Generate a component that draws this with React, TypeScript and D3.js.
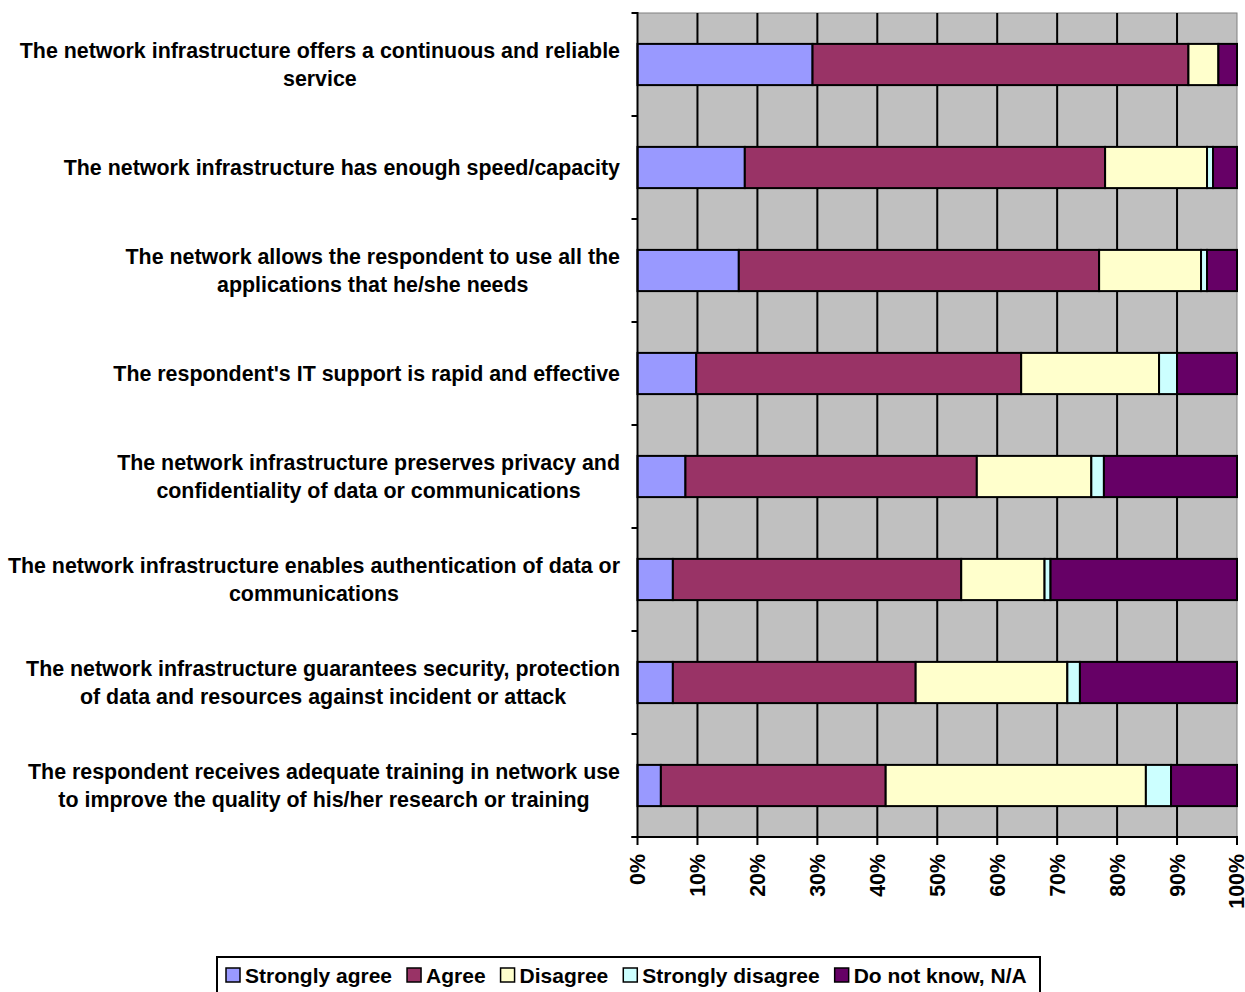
import React from "react";
import * as d3 from "d3";

const categories: string[][] = [
  ["The network infrastructure offers a continuous and reliable", "service"],
  ["The network infrastructure has enough speed/capacity"],
  ["The network allows the respondent to use all the", "applications that he/she needs"],
  ["The respondent's IT support is rapid and effective"],
  ["The network infrastructure preserves privacy and", "confidentiality of data or communications"],
  ["The network infrastructure enables authentication of data or", "communications"],
  ["The network infrastructure guarantees security, protection", "of data and resources against incident or attack"],
  ["The respondent receives adequate training in network use", "to improve the quality of his/her research or training"],
];

const seriesNames = ["Strongly agree", "Agree", "Disagree", "Strongly disagree", "Do not know, N/A"];
const seriesColors = ["#9999FF", "#993366", "#FFFFCC", "#CCFFFF", "#660066"];

const stronglyAgree = [29.2, 17.9, 16.9, 9.8, 8.0, 5.9, 5.9, 3.9];
const agree = [62.7, 60.1, 60.1, 54.2, 48.6, 48.1, 40.5, 37.5];
const disagree = [5.0, 17.0, 17.0, 23.0, 19.1, 13.9, 25.3, 43.4];
const stronglyDisagree = [0, 1.0, 1.0, 3.0, 2.1, 1.0, 2.1, 4.2];
const doNotKnow = [3.1, 4.0, 5.0, 10.0, 22.2, 31.1, 26.2, 11.0];

const tickValues = [0, 10, 20, 30, 40, 50, 60, 70, 80, 90, 100];

const FONT_FAMILY = "'Liberation Sans', Arial, sans-serif";
const LABEL_SIZE = 21.4;
const LEGEND_SIZE = 21;
const TICK_SIZE = 21.4;

let _ctx: CanvasRenderingContext2D | null = null;
function measure(text: string, size: number): number {
  if (!_ctx) {
    const c = document.createElement("canvas");
    _ctx = c.getContext("2d");
  }
  if (!_ctx) return text.length * size * 0.55;
  _ctx.font = `bold ${size}px ${FONT_FAMILY}`;
  return _ctx.measureText(text).width;
}

export default function App() {
  const W = 1245;
  const H = 992;
  const left = 637.5;
  const right = 1237;
  const top = 13;
  const bottom = 837;

  const x = d3.scaleLinear().domain([0, 100]).range([left, right]);
  const y = d3
    .scaleBand<number>()
    .domain(d3.range(categories.length))
    .range([top, bottom])
    .paddingInner(0.6)
    .paddingOuter(0.3);
  const step = y.step();

  const table = categories.map((_, i) => ({
    i,
    s0: stronglyAgree[i],
    s1: agree[i],
    s2: disagree[i],
    s3: stronglyDisagree[i],
    s4: doNotKnow[i],
  }));
  const stack = d3.stack<any>().keys(["s0", "s1", "s2", "s3", "s4"])(table);

  const labelRight = 620;
  const lineH = 28;

  // legend layout
  const legendItems: { x: number; tx: number; name: string; color: string }[] = [];
  let lx = 226;
  seriesNames.forEach((name, k) => {
    const tx = lx + 19;
    legendItems.push({ x: lx, tx, name, color: seriesColors[k] });
    lx = tx + measure(name, LEGEND_SIZE) + 15;
  });

  return (
    <svg
      width={W}
      height={H}
      style={{ position: "absolute", left: 0, top: 0, background: "#fff" }}
      fontFamily={FONT_FAMILY}
      fontWeight="bold"
    >
      {/* plot background */}
      <rect x={left} y={top} width={right - left} height={bottom - top} fill="#C0C0C0" stroke="#808080" strokeWidth={1} />
      {/* gridlines */}
      {tickValues.slice(1, -1).map((t) => (
        <line key={"g" + t} x1={x(t)} x2={x(t)} y1={top} y2={bottom} stroke="#000" strokeWidth={2} />
      ))}
      {/* bars */}
      {stack.map((layer, k) =>
        layer.map((d, i) => {
          const w = x(d[1]) - x(d[0]);
          if (w <= 0) return null;
          return (
            <rect
              key={`b${k}-${i}`}
              x={x(d[0])}
              y={y(i)!}
              width={w}
              height={y.bandwidth()}
              fill={seriesColors[k]}
              stroke="#000"
              strokeWidth={2}
            />
          );
        })
      )}
      {/* left axis */}
      <line x1={left} x2={left} y1={top - 1} y2={bottom + 1} stroke="#000" strokeWidth={2} />
      {d3.range(categories.length + 1).map((j) => (
        <line key={"yt" + j} x1={left - 6} x2={left} y1={top + j * step} y2={top + j * step} stroke="#000" strokeWidth={2} />
      ))}
      {/* bottom axis */}
      <line x1={left - 6} x2={right + 1} y1={bottom} y2={bottom} stroke="#000" strokeWidth={2} />
      {tickValues.map((t) => (
        <g key={"xt" + t}>
          <line x1={x(t)} x2={x(t)} y1={bottom} y2={bottom + 8} stroke="#000" strokeWidth={2} />
          <text
            transform={`translate(${Math.min(x(t), 1236)},${bottom + 17}) rotate(-90)`}
            textAnchor="end"
            dy="0.36em"
            fontSize={TICK_SIZE}
          >
            {t + "%"}
          </text>
        </g>
      ))}
      {/* category labels */}
      {categories.map((lines, i) => {
        const maxW = Math.max(...lines.map((l) => measure(l, LABEL_SIZE)));
        const cx = labelRight - maxW / 2;
        const cy = top + (i + 0.5) * step;
        return (
          <text key={"c" + i} textAnchor="middle" fontSize={LABEL_SIZE}>
            {lines.map((ln, j) => (
              <tspan key={j} x={cx} y={cy + (j - (lines.length - 1) / 2) * lineH} dy="0.36em">
                {ln}
              </tspan>
            ))}
          </text>
        );
      })}
      {/* legend */}
      <rect x={217} y={957} width={823} height={60} fill="#fff" stroke="#000" strokeWidth={2} />
      {legendItems.map((it) => (
        <g key={it.name}>
          <rect x={it.x} y={968} width={14} height={14} fill={it.color} stroke="#000" strokeWidth={1.5} />
          <text x={it.tx} y={975} dy="0.36em" fontSize={LEGEND_SIZE}>
            {it.name}
          </text>
        </g>
      ))}
    </svg>
  );
}
